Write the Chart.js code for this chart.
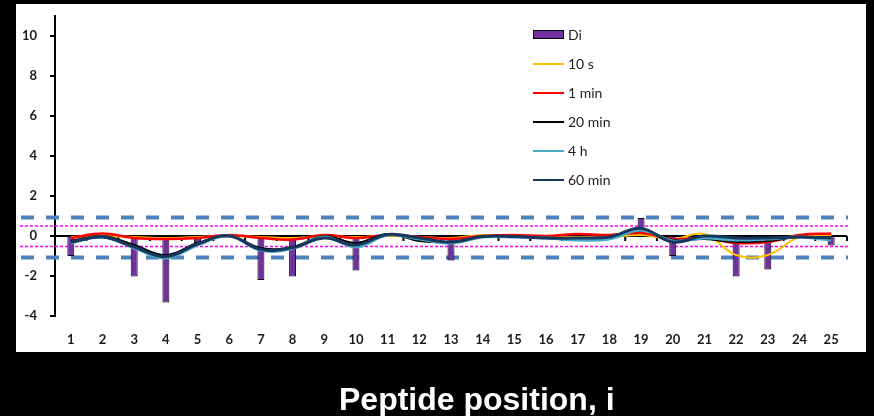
<!DOCTYPE html>
<html>
<head>
<meta charset="utf-8">
<script src="https://cdn.jsdelivr.net/npm/chart.js@4.4.1/dist/chart.umd.min.js"></script>
<style>
  html, body { margin: 0; padding: 0; background: #000; }
  body { width: 874px; height: 416px; position: relative; overflow: hidden; }
  #panel { position: absolute; left: 16px; top: 4px; width: 850px; height: 348px; background: #fff; }
  #myChart { position: absolute; left: 0; top: 0; }
  #legend { position: absolute; left: 533px; top: 20px; font-family: Lato, sans-serif; font-size: 14px; color: #222; }
  .row { height: 29px; display: flex; align-items: center; }
  .swatch { width: 31px; margin-right: 4px; }
  #title { position: absolute; left: 339px; top: 383px; font-family: "Liberation Sans", Arial, sans-serif;
           font-weight: bold; font-size: 32px; line-height: 32px; color: #fff; white-space: nowrap; }
</style>
</head>
<body>
<div id="panel"></div>
<canvas id="myChart" width="874" height="416"></canvas>
<div id="legend"></div>
<div id="title">Peptide position, i</div>
<script>
const positions = ['1','2','3','4','5','6','7','8','9','10','11','12','13','14','15','16','17','18','19','20','21','22','23','24','25'];
const di       = [-1.0, -0.1, -2.03, -3.33, -0.35, 0.05, -2.2, -2.03, -0.05, -1.73, 0.12, -0.22, -1.23, -0.05, -0.05, -0.08, -0.1, -0.05, 0.9, -1.0, -0.05, -2.03, -1.67, -0.08, -0.47];
const s10      = [-0.05, 0.0, -0.05, -0.1, -0.05, 0.0, -0.05, -0.1, 0.0, -0.05, 0.0, -0.05, -0.1, 0.05, 0.0, -0.05, -0.05, -0.05, 0.05, -0.15, 0.1, -0.95, -0.95, -0.05, 0.05];
const min1     = [-0.1, 0.12, -0.1, -0.15, -0.1, 0.05, -0.1, -0.18, 0.05, -0.1, 0.05, -0.05, -0.15, 0.0, 0.05, 0.0, 0.1, 0.05, 0.15, -0.15, -0.1, -0.35, -0.3, 0.05, 0.12];
const min20    = [-0.25, 0.0, -0.45, -0.95, -0.35, 0.0, -0.6, -0.55, 0.0, -0.35, 0.1, -0.25, -0.3, -0.05, -0.03, -0.1, -0.15, -0.1, 0.3, -0.2, -0.15, -0.3, -0.25, -0.05, -0.1];
const h4       = [-0.35, -0.05, -0.6, -1.1, -0.45, 0.0, -0.72, -0.62, -0.05, -0.55, 0.05, -0.15, -0.35, -0.05, -0.05, -0.1, -0.2, -0.15, 0.3, -0.25, -0.1, -0.2, -0.15, -0.05, -0.2];
const min60    = [-0.3, -0.05, -0.55, -1.03, -0.4, 0.0, -0.67, -0.58, -0.1, -0.45, 0.08, -0.1, -0.3, -0.03, -0.03, -0.1, -0.1, -0.05, 0.38, -0.3, 0.0, -0.1, -0.1, -0.05, -0.1];
const yTicks   = [-4, -2, 0, 2, 4, 6, 8, 10];
const dashedLevels = [0.92, -1.07];
const dottedLevels = [0.5, -0.52];

function lineSet(label, data, color, width, order){
    return { type: 'line', label: label, data: data, borderColor: color, backgroundColor: color,
             borderWidth: width, pointRadius: 0, tension: 0.4, fill: false, order: order };
}

const refLines = {
    id: 'refLines',
    beforeDatasetsDraw(chart){
        const ctx = chart.ctx, y = chart.scales.y, a = chart.chartArea;
        ctx.save();
        ctx.strokeStyle = '#4F81BD'; ctx.lineWidth = 4; ctx.setLineDash([13, 12]);
        dashedLevels.forEach(v => {
            const py = y.getPixelForValue(v);
            ctx.beginPath(); ctx.moveTo(21, py); ctx.lineTo(a.right + 1, py); ctx.stroke();
        });
        ctx.strokeStyle = '#FF00FF'; ctx.lineWidth = 1.5; ctx.setLineDash([3, 2]);
        dottedLevels.forEach(v => {
            const py = y.getPixelForValue(v);
            ctx.beginPath(); ctx.moveTo(20, py); ctx.lineTo(a.right + 1, py); ctx.stroke();
        });
        // x axis crossing at 0
        ctx.setLineDash([]);
        ctx.strokeStyle = '#000'; ctx.lineWidth = 2;
        const x = chart.scales.x, p0 = y.getPixelForValue(0);
        const half = (x.getPixelForValue(1) - x.getPixelForValue(0)) / 2;
        ctx.beginPath(); ctx.moveTo(a.left, p0); ctx.lineTo(a.right, p0); ctx.stroke();
        for (let i = 0; i <= positions.length; i++) {
            const px = x.getPixelForValue(i) - half;
            ctx.beginPath(); ctx.moveTo(px, p0); ctx.lineTo(px, p0 + 5); ctx.stroke();
        }
        ctx.restore();
    }
};

const chart = new Chart('myChart', {
    data: {
        labels: positions,
        datasets: [
            { type: 'bar', label: 'Di', data: di, backgroundColor: '#7030A0', borderColor: '#000',
              borderWidth: 1, barPercentage: 0.22, categoryPercentage: 1, order: 10 },
            lineSet('10 s', s10, '#FFC000', 2, 5),
            lineSet('1 min', min1, '#FF0000', 2.5, 4),
            lineSet('20 min', min20, '#000000', 2, 3),
            lineSet('4 h', h4, '#4BACC6', 3, 2),
            lineSet('60 min', min60, '#17375E', 3, 1)
        ]
    },
    options: {
        responsive: false,
        animation: false,
        layout: { padding: { left: 0, right: 27, top: 16, bottom: 0 } },
        plugins: { legend: { display: false }, tooltip: { enabled: false } },
        scales: {
            x: {
                grid: { display: false, drawTicks: false },
                border: { display: false },
                ticks: { padding: 16, color: '#1a1a1a', font: { family: 'Lato', weight: 'bold', size: 13 }, maxRotation: 0 },
                afterFit: s => { s.height = 100; }
            },
            y: {
                min: -4, max: 11,
                afterBuildTicks: s => { s.ticks = yTicks.map(v => ({ value: v })); },
                grid: { drawOnChartArea: false, tickLength: 5, color: '#000', lineWidth: 2 },
                border: { display: true, color: '#000', width: 2 },
                ticks: { padding: 13, color: '#1a1a1a', font: { family: 'Lato', weight: 'bold', size: 13 } },
                afterFit: s => { s.width = 55; s.paddingTop = 0; s.paddingBottom = 0; }
            }
        }
    },
    plugins: [refLines]
});

// legend in the plot area
const legend = document.getElementById('legend');
chart.data.datasets.forEach(ds => {
    const row = document.createElement('div');
    row.className = 'row';
    const sw = document.createElement('div');
    sw.className = 'swatch';
    if (ds.type === 'bar') {
        sw.style.height = '7px'; sw.style.background = ds.backgroundColor; sw.style.border = '1px solid #000';
        sw.style.width = '29px';
    } else {
        sw.style.height = '2px'; sw.style.background = ds.borderColor;
    }
    const txt = document.createElement('span');
    txt.textContent = ds.label;
    row.appendChild(sw); row.appendChild(txt);
    legend.appendChild(row);
});
</script>
</body>
</html>
